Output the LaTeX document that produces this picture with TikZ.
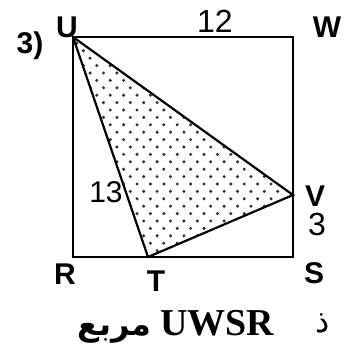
\documentclass[tikz,border=0pt]{standalone}
\usepackage{fontspec}
\setmainfont{Liberation Serif}
\newfontfamily\lsans{Liberation Sans}
\newfontfamily\arabicfont[Script=Arabic]{DejaVu Sans}
\TeXXeTstate=1
\begin{document}
\begin{tikzpicture}[x=1pt,y=-1pt,
  lbl/.style={inner sep=0pt,font=\lsans\bfseries\fontsize{30}{34}\selectfont},
  num/.style={inner sep=0pt,font=\lsans\fontsize{32}{36}\selectfont},
  edge/.style={line width=2.2pt,line join=miter},
  side/.style={line width=2.2pt,line cap=round}]
\useasboundingbox (0,0) rectangle (346,347);
\coordinate (U) at (73,37);
\coordinate (W) at (293,37);
\coordinate (S) at (293,257);
\coordinate (R) at (73,257);
\coordinate (T) at (148,257);
\coordinate (V) at (293,195);
% dotted fill
\begin{scope}
\clip (U) -- (T) -- (V) -- cycle;
\foreach \j in {0,...,31}{
  \foreach \i in {0,...,17}{
    \fill[black!80] ({70+\i*13.4+mod(\j,2)*6.7},{36+\j*7.4}) circle (1.7pt);
  }
}
\end{scope}
\draw[edge] (U) -- (W) -- (S) -- (R) -- cycle;
\draw[side] (U) -- (T) -- (V) -- cycle;
% labels
\node[lbl] (n3) at (30,46) {3)};
\node[lbl] (nU) at (67,27) {U};
\node[num] (n12) at (215,21) {12};
\node[lbl] (nW) at (327,27) {W};
\node[num,font=\lsans\fontsize{30}{34}\selectfont] (n13) at (106,192) {13};
\node[lbl] (nV) at (315,196) {V};
\node[num] (nthree) at (317,224) {3};
\node[lbl] (nR) at (65,274) {R};
\node[lbl] (nT) at (156,281) {T};
\node[lbl] (nS) at (314,273) {S};
\node[inner sep=0pt] (cap) at (176,327) {{\arabicfont\bfseries\fontsize{32}{36}\selectfont\beginR مربع\endR}\hspace{9pt}{\bfseries\fontsize{38}{42}\selectfont UWSR}};
\node[inner sep=0pt] (frag) at (323,323) {\arabicfont\fontsize{32}{36}\selectfont\beginR ذ\endR};
\end{tikzpicture}
\end{document}
